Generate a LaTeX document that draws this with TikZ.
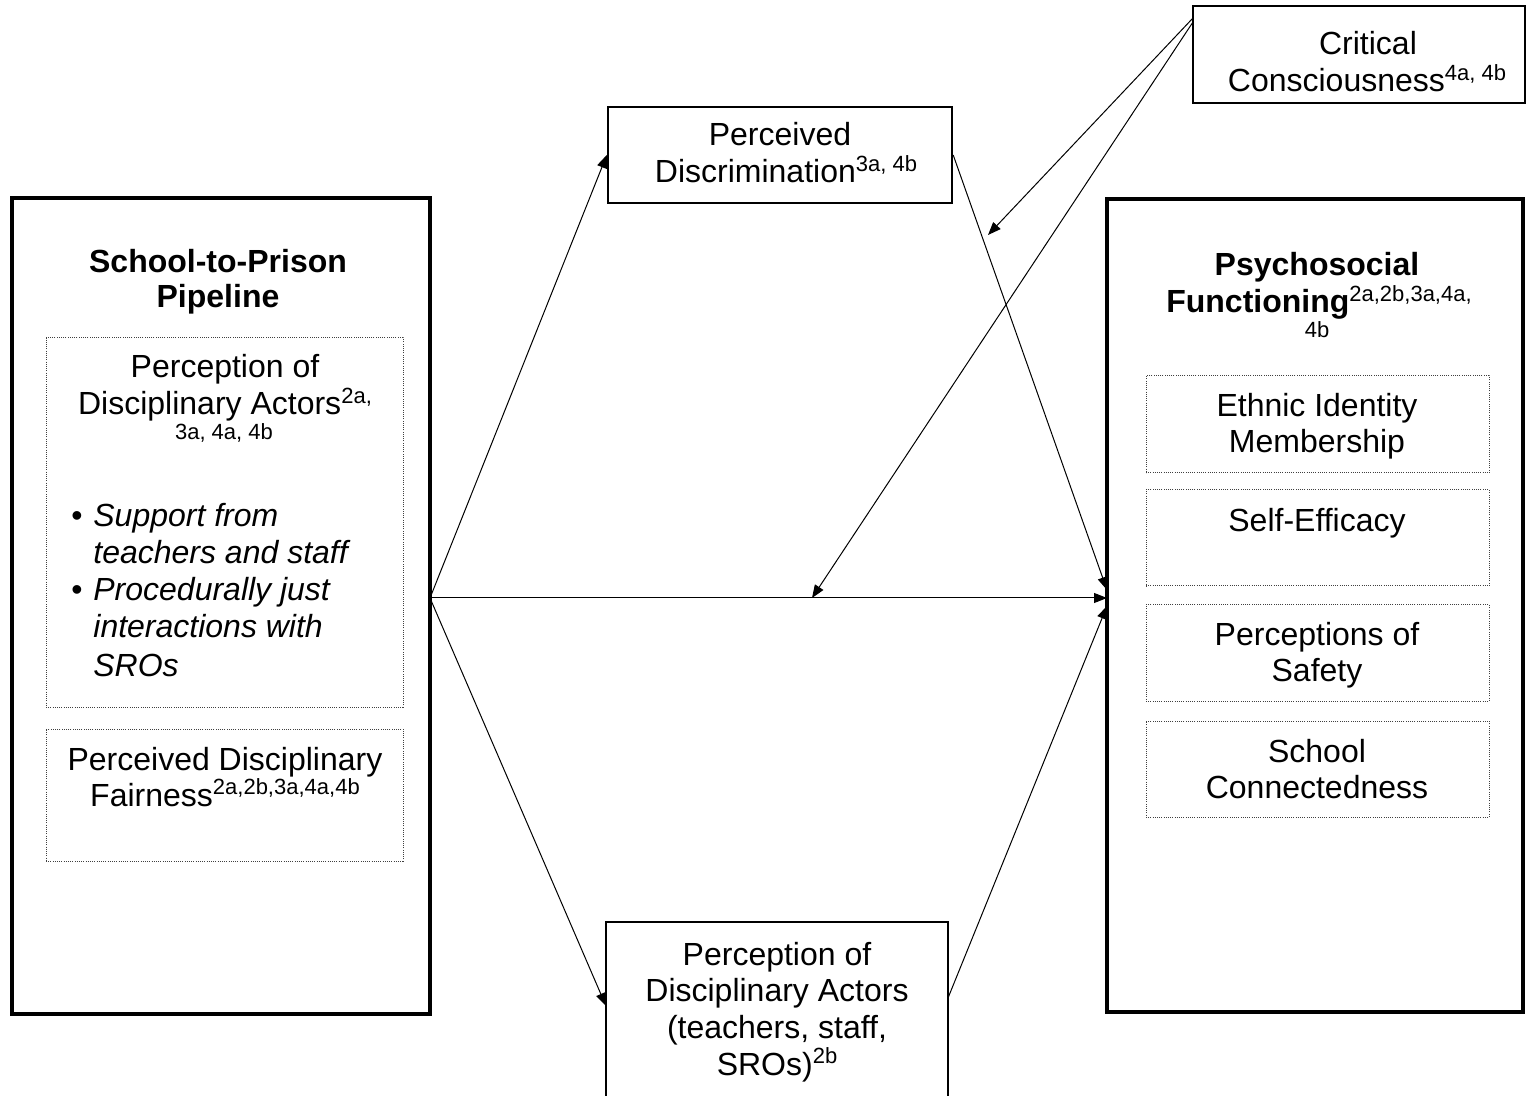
\documentclass[tikz,border=0pt]{standalone}
\usepackage{fontspec}
\setmainfont{Liberation Sans}
\usetikzlibrary{arrows.meta}
\newcommand\supx[1]{\raisebox{0.36em}{\fontsize{11}{12}\mdseries\selectfont #1}}
\begin{document}
\begin{tikzpicture}[x=0.5pt,y=-0.5pt,
  bigbox/.style={draw, line width=1.75pt, inner sep=0pt},
  midbox/.style={draw, line width=1.2pt, inner sep=0pt},
  dotbox/.style={draw=black!75, line width=0.5pt, dash pattern=on 0.5pt off 0.6pt, inner sep=0pt},
  txt/.style={anchor=base, inner sep=0pt, font=\fontsize{16}{18}\selectfont},
  btxt/.style={anchor=base, inner sep=0pt, font=\fontsize{16}{18}\selectfont\bfseries},
  itxt/.style={anchor=base west, inner sep=0pt, font=\fontsize{16}{18}\selectfont\itshape},
  smalltxt/.style={anchor=base, inner sep=0pt, font=\fontsize{11}{12}\selectfont},
  arr/.style={line width=0.5pt, -{Triangle[length=6.5pt,width=5pt]}}
]
\useasboundingbox (0,0) rectangle (1527,1096);
\clip (0,0) rectangle (1527,1096);

% main boxes
\node[bigbox, minimum width=209pt, minimum height=408pt] (L) at (221,606) {};
\node[bigbox, minimum width=208pt, minimum height=406.5pt] (R) at (1315,605.5) {};
\node[midbox, minimum width=172pt, minimum height=48pt] (PD) at (780,155) {};
\node[midbox, minimum width=166pt, minimum height=48.5pt] (CC) at (1359,54.5) {};
\node[midbox, minimum width=171pt, minimum height=89pt] (PA) at (777,1011) {};

% inner dotted boxes
\node[dotbox, minimum width=178.5pt, minimum height=184.5pt] (L1) at (224.5,522.5) {};
\node[dotbox, minimum width=178.5pt, minimum height=66pt] (L2) at (224.5,795) {};
\node[dotbox, minimum width=171.5pt, minimum height=48.5pt] (R1) at (1317.5,424.5) {};
\node[dotbox, minimum width=171.5pt, minimum height=48pt] (R2) at (1317.5,538) {};
\node[dotbox, minimum width=171.5pt, minimum height=48pt] (R3) at (1317.5,653) {};
\node[dotbox, minimum width=171.5pt, minimum height=48pt] (R4) at (1317.5,769) {};

% texts: Critical Consciousness
\node[txt] (cc1) at (1368,55) {Critical};
\node[txt] (cc2) at (1367,92) {Consciousness\supx{4a, 4b}};
% Perceived Discrimination
\node[txt] (pd1) at (780,146) {Perceived};
\node[txt] (pd2) at (786,183) {Discrimination\supx{3a, 4b}};
% bottom box
\node[txt] (pa1) at (777,965) {Perception of};
\node[txt] (pa2) at (777,1001) {Disciplinary Actors};
\node[txt] (pa3) at (777,1038) {(teachers, staff,};
\node[txt] (pa4) at (777,1075) {SROs)\supx{2b}};
% left box
\node[btxt] (lt1) at (218,273) {School-to-Prison};
\node[btxt] (lt2) at (218,308) {Pipeline};
\node[txt] (l11) at (225,378) {Perception of};
\node[txt] (l12) at (225,415) {Disciplinary Actors\supx{2a,}};
\node[smalltxt] (l13) at (224,440) {3a, 4a, 4b};
\node[txt] (b1) at (77,527) {\textbullet};
\node[itxt] (l14) at (93,527) {Support from};
\node[itxt] (l15) at (93,564) {teachers and staff};
\node[txt] (b2) at (77,601) {\textbullet};
\node[itxt] (l16) at (93,601) {Procedurally just};
\node[itxt] (l17) at (93,638) {interactions with};
\node[itxt] (l18) at (93,676) {SROs};
\node[txt] (l21) at (225,770) {Perceived Disciplinary};
\node[txt] (l22) at (225,806) {Fairness\supx{2a,2b,3a,4a,4b}};
% right box
\node[btxt] (rt1) at (1317,276) {Psychosocial};
\node[btxt] (rt2) at (1319,313) {Functioning\supx{2a,2b,3a,4a,}};
\node[smalltxt] (rt3) at (1317,338) {4b};
\node[txt] (r11) at (1317,417) {Ethnic Identity};
\node[txt] (r12) at (1317,453) {Membership};
\node[txt] (r21) at (1317,532) {Self-Efficacy};
\node[txt] (r31) at (1317,646) {Perceptions of};
\node[txt] (r32) at (1317,682) {Safety};
\node[txt] (r41) at (1317,762) {School};
\node[txt] (r42) at (1317,798) {Connectedness};

% connector end points
\coordinate (Lout) at (430,598);
\coordinate (Rin1) at (1107,590);
\coordinate (Rin2) at (1107,598);
\coordinate (Rin3) at (1107,606);
\coordinate (PAin) at (606,1006);
\coordinate (PAout) at (948,998);
\coordinate (CCa) at (1193,18);
\coordinate (CCb) at (1193,22);
\coordinate (M1) at (988,235);
\coordinate (M2) at (812,598);

\draw[arr] (Lout) -- (PD.west);
\draw[arr] (Lout) -- (Rin2);
\draw[arr] (Lout) -- (PAin);
\draw[arr] (PD.east) -- (Rin1);
\draw[arr] (PAout) -- (Rin3);
\draw[arr] (CCa) -- (M1);
\draw[arr] (CCb) -- (M2);
\end{tikzpicture}
\end{document}
